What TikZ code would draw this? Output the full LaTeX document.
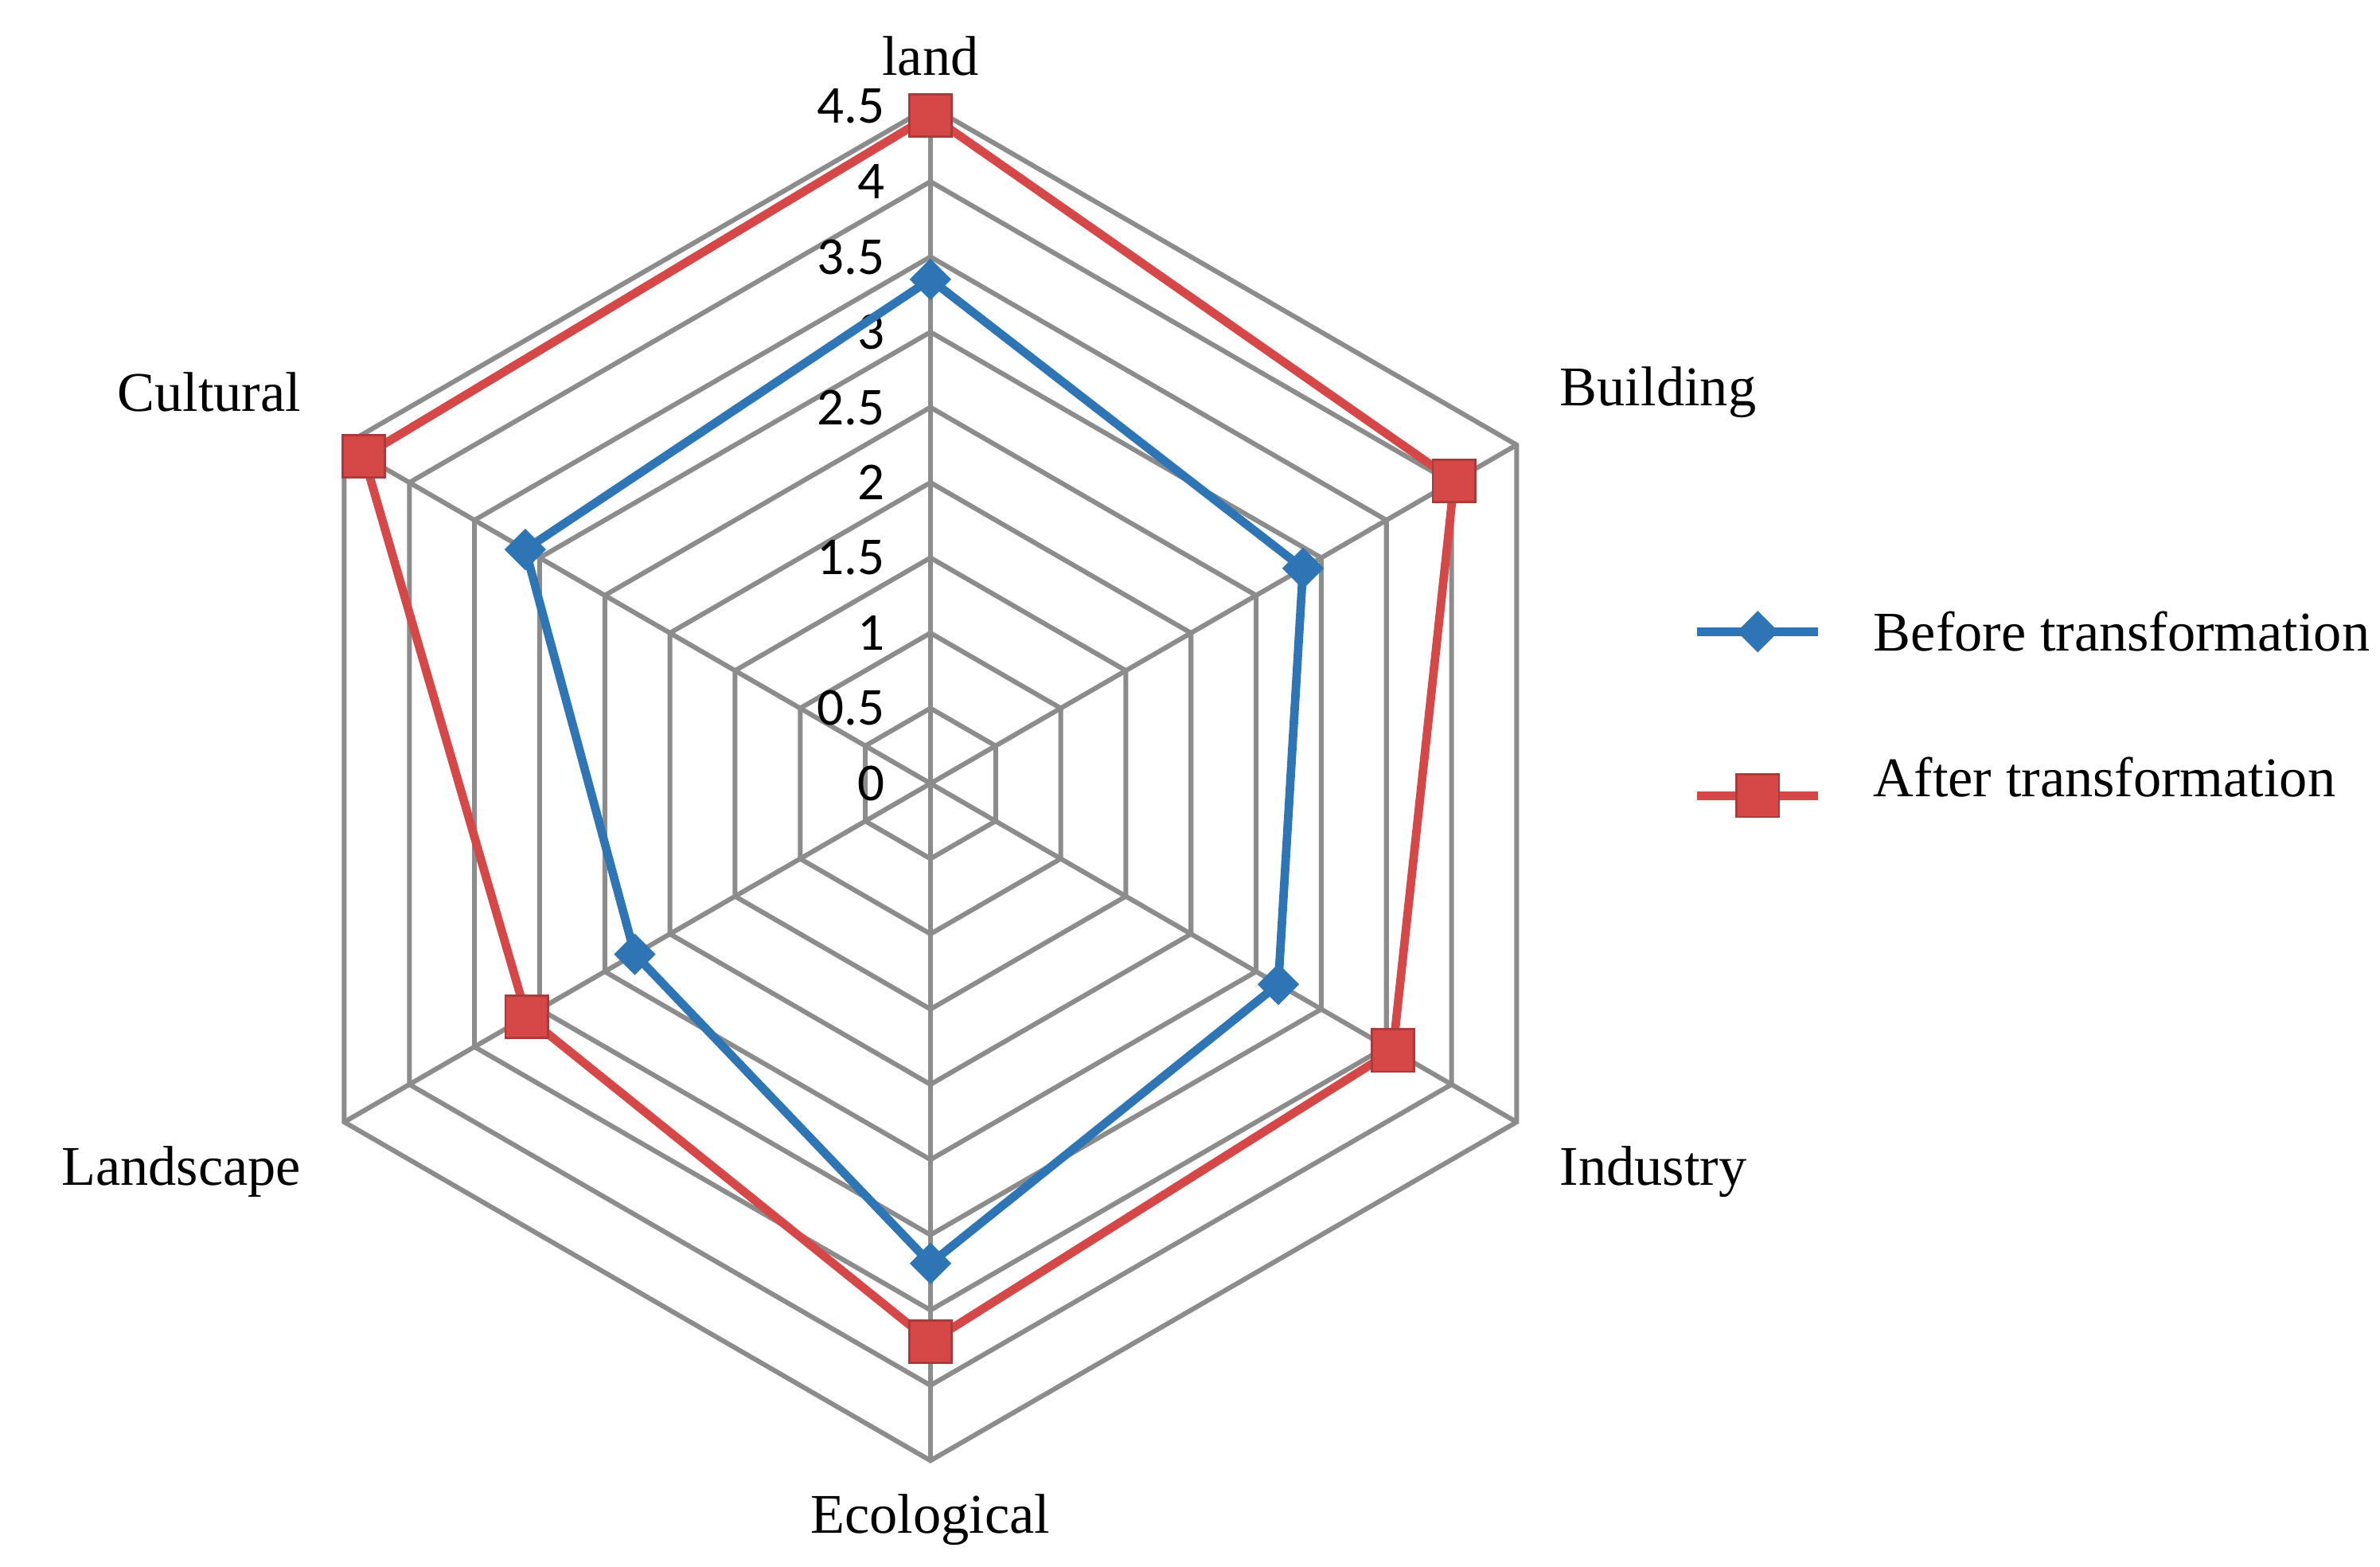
\documentclass[tikz,border=0pt]{standalone}
\usepackage{fontspec}
\setmainfont{Liberation Serif}
\newfontfamily\tickfont{Carlito}
\usetikzlibrary{positioning, shapes.geometric}
\definecolor{beforeblue}{RGB}{46,117,182}
\definecolor{afterred}{RGB}{214,72,72}
\definecolor{gridgray}{RGB}{140,140,140}
\tikzset{
  grid line/.style={gridgray, line width=0.9pt},
  series before/.style={beforeblue, line width=1.6pt, line join=round},
  series after/.style={afterred, line width=1.6pt, line join=round},
  mark before/.style={fill=beforeblue, draw=beforeblue, diamond, aspect=1, minimum size=0.26cm, inner sep=0pt},
  mark after/.style={fill=afterred, draw=afterred!80!black, rectangle, minimum size=0.28cm, inner sep=0pt},
  axis label/.style={font=\fontsize{10.5pt}{12pt}\selectfont},
  tick label/.style={font=\tickfont\fontsize{10pt}{12pt}\selectfont, anchor=east}
}
\begin{document}
\begin{tikzpicture}[x=1cm,y=1cm]
\useasboundingbox (0,0) rectangle (15.68,10.32);
\begin{scope}[shift={(6.13,5.16)}, x=0.991cm, y=0.991cm]
% rings
\foreach \r in {0.5,1,...,4.5}
  \draw[grid line] (90:\r) -- (30:\r) -- (-30:\r) -- (-90:\r) -- (210:\r) -- (150:\r) -- cycle;
% spokes
\foreach \a in {90,30,-30,-90,210,150}
  \draw[grid line] (0,0) -- (\a:4.5);
% tick labels
\foreach \r in {0,0.5,1,1.5,2,2.5,3,3.5,4,4.5}
  \node[tick label] at (-0.18,\r) {\r};
% axis labels
\node[axis label, anchor=south] at (90:4.58) {land};
\node[axis label, anchor=west] at (4.06,2.6) {Building};
\node[axis label, anchor=west] at (4.06,-2.58) {Industry};
\node[axis label, anchor=north] at (-90:4.6) {Ecological};
\node[axis label, anchor=east] at (-4.06,-2.58) {Landscape};
\node[axis label, anchor=east] at (-4.06,2.6) {Cultural};
% before transformation
\draw[series before] (90:3.35) -- (30:2.86) -- (-30:2.67) -- (-90:3.19) -- (210:2.27) -- (150:3.11) -- cycle;
\foreach \a/\v in {90/3.35,30/2.86,-30/2.67,-90/3.19,210/2.27,150/3.11}
  \node[mark before] at (\a:\v) {};
% after transformation
\draw[series after] (90:4.44) -- (30:4.02) -- (-30:3.55) -- (-90:3.71) -- (210:3.1) -- (150:4.35) -- cycle;
\foreach \a/\v in {90/4.44,30/4.02,-30/3.55,-90/3.71,210/3.1,150/4.35}
  \node[mark after] at (\a:\v) {};
\end{scope}
% legend
\coordinate (b1) at (11.18,6.16);
\coordinate (b2) at (11.98,6.16);
\draw[series before] (b1) -- (b2);
\node[mark before] (bm) at (11.58,6.16) {};
\node[axis label, anchor=west] (bt) at (12.22,6.16) {Before transformation};
\coordinate (a1) at (11.18,5.08);
\coordinate (a2) at (11.98,5.08);
\draw[series after] (a1) -- (a2);
\node[mark after] (am) at (11.58,5.08) {};
\node[axis label, anchor=west] (at) at (12.22,5.2) {After transformation};
\end{tikzpicture}
\end{document}
